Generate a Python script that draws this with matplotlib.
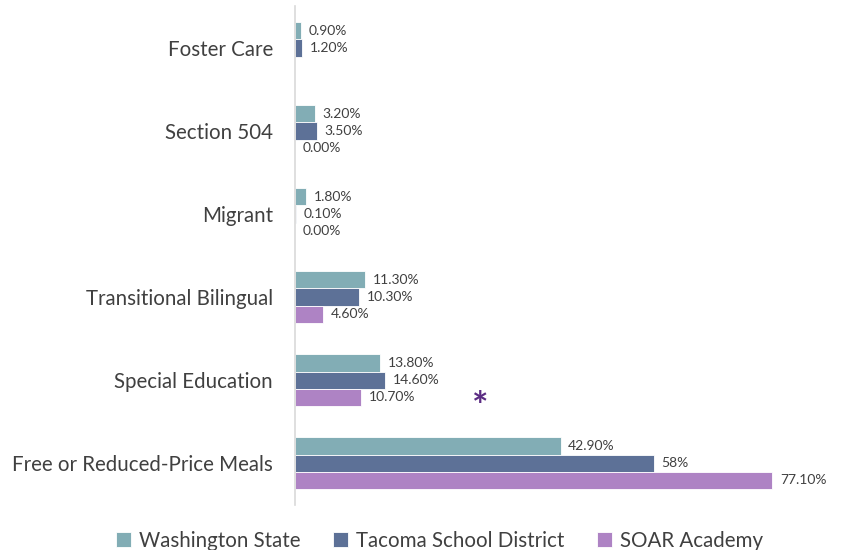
import numpy as np
import matplotlib.pyplot as plt

plt.rcParams['font.family'] = ['Lato', 'DejaVu Sans']

# categories from bottom to top
categories = ['Free or Reduced-Price Meals', 'Special Education', 'Transitional Bilingual',
              'Migrant', 'Section 504', 'Foster Care']
series = ['Washington State', 'Tacoma School District', 'SOAR Academy']

washington = [42.9, 13.8, 11.3, 1.8, 3.2, 0.9]
tacoma = [58, 14.6, 10.3, 0.1, 3.5, 1.2]
soar = [77.1, 10.7, 4.6, 0.0, 0.0, np.nan]

washington_labels = ['42.90%', '13.80%', '11.30%', '1.80%', '3.20%', '0.90%']
tacoma_labels = ['58%', '14.60%', '10.30%', '0.10%', '3.50%', '1.20%']
soar_labels = ['77.10%', '10.70%', '4.60%', '0.00%', '0.00%', '']

colors = ['#82ADB5', '#5D7197', '#AE83C4']
text_col = '#404040'

fig = plt.figure(figsize=(8.44, 5.5), dpi=100)
ax = fig.add_axes([0.3495, 0.0827, 0.6505, 0.9055])

y = np.arange(len(categories))
h = 0.205
offsets = [h, 0, -h]
all_vals = [washington, tacoma, soar]
all_labels = [washington_labels, tacoma_labels, soar_labels]

for vals, labs, off, col, name in zip(all_vals, all_labels, offsets, colors, series):
    ax.barh(y + off, vals, height=h, color=col, edgecolor='white', linewidth=0.6, label=name)
    for yy, v, lab in zip(y + off, vals, labs):
        if lab == '':
            continue
        vv = 0 if np.isnan(v) else v
        ax.annotate(lab, (vv, yy), xytext=(5.5, 0), textcoords='offset points',
                    va='center', ha='left', fontsize=10, color=text_col)

# asterisk next to SOAR special education
ax.text(30, 1 - h - 0.13, '*', fontsize=28, color='#5B2C83', fontweight='bold',
        ha='center', va='center')

ax.set_xlim(0, 88.7)
ax.set_ylim(-0.5, 5.5)
ax.set_yticks(y)
ax.set_yticklabels(categories, fontsize=14.8, color=text_col)
ax.tick_params(axis='y', length=0, pad=16)
ax.set_xticks([])
for s in ['top', 'right', 'bottom']:
    ax.spines[s].set_visible(False)
ax.spines['left'].set_color('#D9D9D9')
ax.spines['left'].set_linewidth(1.2)

fig.legend(loc='lower center', bbox_to_anchor=(0.521, -0.035), ncol=3, frameon=False,
           fontsize=14.8, handlelength=0.7, handleheight=0.7, handletextpad=0.4,
           columnspacing=1.6, labelcolor=text_col)

fig.savefig('out.png', dpi=100)
